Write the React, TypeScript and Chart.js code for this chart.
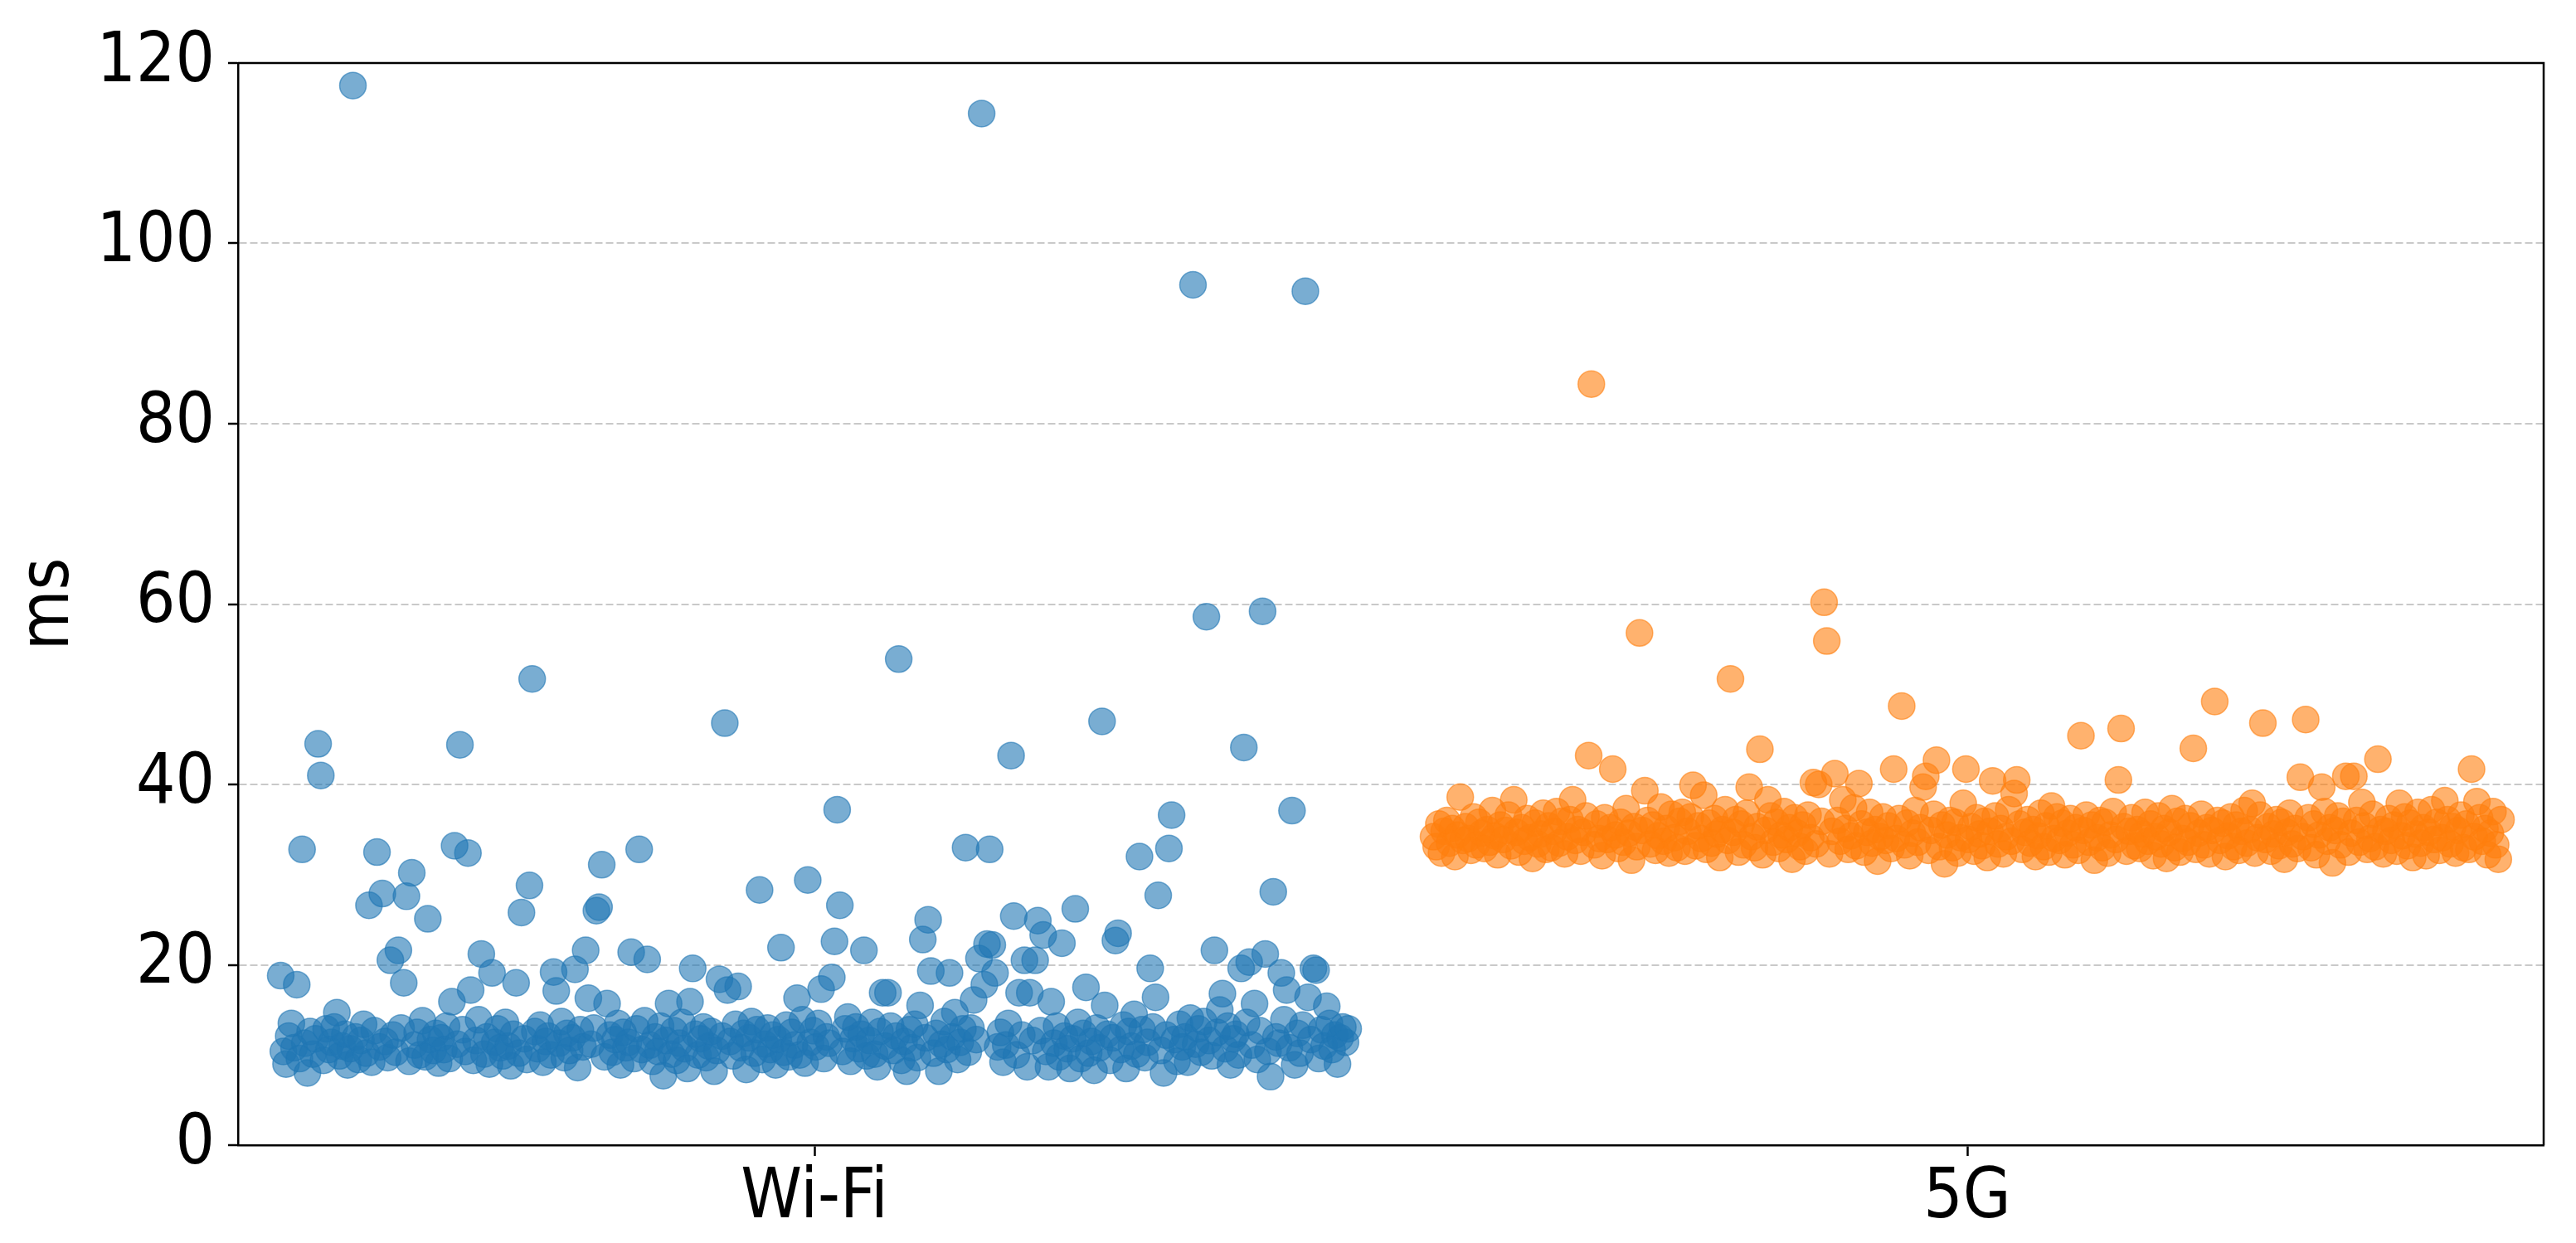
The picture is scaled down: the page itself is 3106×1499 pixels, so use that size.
import { useEffect, useRef } from "react";
import { Chart, registerables } from "chart.js";

Chart.register(...registerables);

const categories = ["Wi-Fi", "5G"];
const yTicks = [0, 20, 40, 60, 80, 100, 120];

// latency samples (ms), read left to right across each strip
const wifiMs = [
  18.8, 10.4, 9.0, 12.1, 13.5, 10.8, 17.8, 9.6, 32.8, 11.3, 8.0, 12.6, 10.1, 11.8, 44.5, 41.0, 9.4, 12.9, 10.6, 11.4,
  13.1, 14.7, 9.9, 11.0, 12.3, 8.9, 10.7, 117.5, 12.0, 9.5, 11.6, 13.4, 10.2, 26.6, 9.2, 12.7, 32.5, 10.9, 27.9, 11.5,
  9.7, 20.5, 12.2, 10.3, 21.6, 13.0, 18.0, 27.6, 9.3, 30.2, 11.1, 12.5, 10.0, 13.8, 9.8, 25.1, 11.7, 10.5, 12.4, 9.1,
  11.9, 10.6, 13.2, 9.6, 15.9, 33.2, 11.2, 44.4, 12.8, 10.4, 32.4, 17.2, 9.4, 11.6, 13.9, 21.2, 10.1, 12.0, 9.0, 19.1,
  11.4, 12.9, 10.8, 9.9, 13.6, 11.0, 8.8, 12.3, 18.0, 10.2, 25.8, 11.8, 9.5, 28.8, 51.7, 12.6, 10.7, 13.3, 9.2, 11.5,
  12.1, 10.0, 19.2, 17.1, 11.3, 13.7, 9.7, 12.4, 10.5, 11.9, 19.5, 8.6, 12.8, 10.9, 21.6, 16.3, 11.2, 13.0, 26.0, 26.4,
  31.1, 9.8, 15.7, 12.2, 10.3, 11.7, 13.5, 8.9, 12.5, 10.8, 11.4, 21.4, 9.6, 12.9, 32.8, 10.6, 13.8, 20.6, 11.1, 9.3,
  12.0, 10.4, 13.2, 7.7, 11.6, 15.7, 10.1, 12.7, 9.4, 11.3, 13.6, 10.7, 8.5, 15.9, 19.6, 12.3, 10.0, 11.8, 13.1, 9.7,
  11.0, 12.6, 8.2, 10.5, 18.4, 12.1, 46.8, 17.2, 11.5, 9.9, 13.4, 17.6, 10.8, 12.4, 8.4, 11.9, 13.7, 10.2, 12.8, 28.3,
  9.5, 11.2, 13.0, 10.6, 12.2, 8.9, 11.7, 21.9, 10.3, 13.3, 9.8, 12.5, 11.1, 16.3, 10.0, 13.9, 9.1, 29.4, 11.4, 12.7,
  10.9, 13.5, 17.3, 9.6, 12.0, 11.3, 18.6, 22.6, 37.2, 26.6, 10.4, 12.9, 14.2, 9.3, 11.8, 13.1, 10.7, 12.3, 21.6, 9.9,
  11.6, 13.6, 10.1, 8.7, 12.6, 16.9, 11.0, 16.9, 13.2, 10.5, 12.1, 53.9, 9.4, 11.5, 8.2, 12.8, 10.8, 13.4, 9.7, 15.5,
  22.8, 11.9, 25.0, 19.3, 10.2, 12.4, 8.2, 11.2, 13.7, 10.6, 19.1, 12.0, 14.7, 9.5, 11.4, 12.9, 33.0, 10.3, 13.0, 16.1,
  11.7, 20.7, 114.4, 17.8, 22.3, 32.8, 22.2, 19.1, 10.9, 12.5, 9.2, 11.1, 13.5, 43.2, 25.4, 10.0, 16.9, 12.2, 20.5, 8.7,
  16.9, 11.6, 20.5, 24.9, 12.7, 23.3, 10.4, 8.7, 15.9, 11.3, 13.2, 9.8, 22.4, 12.1, 10.7, 8.5, 11.8, 26.2, 13.6, 9.6,
  12.4, 17.5, 10.2, 11.5, 8.3, 13.0, 10.8, 47.0, 15.5, 12.3, 9.4, 11.9, 22.7, 23.5, 10.6, 13.3, 8.5, 12.6, 11.0, 14.5,
  10.1, 32.0, 12.8, 9.7, 11.4, 19.6, 13.1, 16.4, 27.7, 10.5, 8.0, 12.2, 32.9, 36.6, 11.7, 9.3, 13.4, 10.9, 12.0, 9.2,
  14.1, 95.4, 11.2, 12.9, 10.3, 13.7, 58.6, 11.6, 9.9, 21.6, 12.5, 15.0, 16.8, 10.7, 13.2, 8.9, 11.8, 12.3, 10.0, 19.6,
  44.1, 13.6, 20.3, 11.1, 15.7, 9.5, 12.7, 59.2, 21.2, 10.4, 7.6, 28.1, 12.0, 11.3, 19.1, 13.9, 17.2, 10.8, 37.1, 8.9,
  12.4, 10.2, 13.3, 94.7, 16.4, 11.7, 19.6, 19.4, 9.6, 12.8, 11.0, 15.4, 13.5, 10.6, 12.2, 9.0, 11.9, 13.1, 11.4, 12.9,
];

const fiveGMs = [
  34.2, 33.1, 35.6, 32.4, 34.8, 36.0, 33.5, 35.1, 32.0, 34.4, 38.6, 33.8, 35.3, 34.0, 32.7, 36.4, 33.3, 35.8, 34.6, 32.9,
  35.0, 33.6, 37.1, 34.3, 32.2, 35.5, 33.9, 34.9, 36.6, 33.2, 38.3, 34.7, 32.5, 35.2, 33.7, 36.2, 34.1, 31.8, 35.7, 33.4,
  34.5, 36.8, 32.8, 35.4, 33.0, 34.8, 37.0, 33.5, 35.9, 32.3, 34.2, 36.1, 38.3, 33.8, 35.0, 32.6, 34.7, 36.5, 43.2, 84.4,
  33.3, 35.6, 34.0, 32.1, 36.3, 33.9, 35.2, 41.7, 34.4, 32.9, 35.8, 33.6, 37.3, 34.6, 31.6, 35.3, 33.1, 56.8, 34.9, 39.3,
  36.0, 33.4, 35.5, 32.7, 34.3, 37.5, 33.7, 35.1, 32.4, 36.7, 34.1, 33.0, 35.9, 36.9, 32.6, 34.8, 36.4, 39.9, 33.2, 35.4,
  34.0, 38.8, 32.8, 35.7, 33.5, 36.2, 34.5, 31.9, 35.0, 37.2, 33.8, 51.7, 34.7, 36.1, 32.5, 35.6, 33.3, 36.8, 39.7, 34.2,
  33.0, 35.3, 43.9, 32.2, 34.9, 38.3, 36.5, 33.6, 35.8, 32.9, 34.4, 37.0, 33.9, 35.2, 31.7, 36.3, 34.6, 33.1, 35.5, 32.6,
  36.6, 34.1, 40.2, 33.4, 40.0, 35.9, 60.2, 55.9, 32.3, 34.8, 41.2, 36.0, 33.7, 38.3, 35.1, 32.8, 34.3, 37.4, 33.2, 40.1,
  35.6, 32.5, 34.7, 36.9, 33.5, 35.0, 31.5, 34.2, 36.4, 33.8, 35.4, 32.9, 41.7, 34.0, 36.2, 48.7, 33.3, 35.7, 32.1, 34.6,
  37.1, 33.6, 35.2, 39.7, 40.9, 32.7, 34.9, 36.7, 42.7, 33.1, 35.5, 31.2, 34.4, 36.0, 33.0, 35.8, 32.4, 34.1, 37.9, 41.7,
  33.9, 35.3, 32.6, 36.3, 34.5, 33.2, 35.9, 31.9, 34.8, 40.4, 36.5, 33.4, 35.1, 32.3, 34.2, 37.2, 33.7, 39.0, 40.5, 35.6,
  32.8, 34.7, 36.1, 33.5, 35.0, 32.0, 34.3, 36.8, 33.1, 35.4, 32.5, 37.6, 34.0, 36.4, 33.8, 35.7, 32.2, 34.6, 36.2, 33.3,
  35.2, 32.7, 45.4, 34.9, 36.6, 33.6, 35.5, 31.6, 34.1, 36.0, 33.0, 35.8, 32.4, 34.4, 37.0, 33.9, 40.5, 46.2, 35.3, 32.6,
  34.8, 36.3, 33.2, 35.0, 32.9, 34.5, 36.9, 33.7, 35.6, 32.1, 34.2, 36.5, 33.4, 35.1, 31.8, 34.7, 37.3, 33.0, 35.9, 32.5,
  34.0, 36.2, 33.6, 35.4, 44.0, 32.8, 34.6, 36.7, 33.3, 35.2, 32.3, 34.9, 49.2, 36.0, 33.8, 35.7, 32.0, 34.3, 36.4, 33.1,
  35.5, 32.7, 34.8, 37.1, 33.5, 35.0, 37.9, 32.4, 34.1, 36.6, 46.8, 33.9, 35.3, 32.6, 34.5, 36.1, 33.2, 35.8, 31.7, 34.7,
  36.8, 33.4, 35.1, 32.9, 40.8, 34.2, 47.2, 36.3, 33.0, 35.6, 32.2, 34.4, 39.7, 37.0, 33.7, 35.2, 31.3, 34.9, 36.5, 33.3,
  35.9, 40.9, 32.5, 34.6, 40.9, 36.0, 33.6, 38.0, 35.4, 32.8, 34.0, 36.7, 33.1, 42.8, 35.0, 32.3, 34.8, 36.2, 33.8, 35.5,
  32.6, 37.9, 34.3, 36.4, 33.2, 35.7, 31.9, 34.5, 36.9, 33.5, 35.2, 32.1, 34.7, 37.2, 33.9, 35.8, 32.7, 34.1, 38.2, 36.1,
  33.4, 35.3, 32.4, 34.9, 36.6, 33.0, 35.6, 32.8, 41.7, 34.2, 38.1, 36.3, 33.7, 35.1, 32.2, 34.6, 37.0, 33.3, 31.7, 36.1,
];

const FONT = "'DejaVu Sans Condensed', 'DejaVu Sans', sans-serif";
const FONT_SIZE = 83;
const SPREAD = 0.463; // half width of the strip around each category

function strip(values: number[], cat: number) {
  const n = values.length;
  return values.map((y, i) => ({ x: cat - SPREAD + (2 * SPREAD * i) / (n - 1), y }));
}

// top and right spines
const frame = {
  id: "frame",
  afterDraw(chart: Chart) {
    const { ctx, chartArea: a } = chart;
    ctx.save();
    ctx.strokeStyle = "#000";
    ctx.lineWidth = 2.5;
    ctx.beginPath();
    ctx.moveTo(a.left, a.top);
    ctx.lineTo(a.right, a.top);
    ctx.lineTo(a.right, a.bottom);
    ctx.stroke();
    ctx.restore();
  },
};

function App() {
  const canvasRef = useRef<HTMLCanvasElement | null>(null);

  useEffect(() => {
    if (!canvasRef.current) return;
    const chart = new Chart(canvasRef.current, {
      type: "scatter",
      data: {
        datasets: [
          {
            label: categories[0],
            data: strip(wifiMs, 0),
            backgroundColor: "rgba(31, 119, 180, 0.6)",
            borderColor: "rgba(31, 119, 180, 0.6)",
            borderWidth: 1.5,
            pointRadius: 16,
          },
          {
            label: categories[1],
            data: strip(fiveGMs, 1),
            backgroundColor: "rgba(255, 127, 14, 0.6)",
            borderColor: "rgba(255, 127, 14, 0.6)",
            borderWidth: 1.5,
            pointRadius: 16,
          },
        ],
      },
      options: {
        animation: false,
        responsive: true,
        maintainAspectRatio: false,
        events: [],
        layout: { padding: { top: 76, right: 39, left: 0, bottom: 0 } },
        plugins: {
          legend: { display: false },
          tooltip: { enabled: false },
        },
        scales: {
          x: {
            type: "linear",
            min: -0.5,
            max: 1.5,
            afterBuildTicks: (scale: any) => {
              scale.ticks = categories.map((_, i) => ({ value: i }));
            },
            afterFit: (scale: any) => {
              scale.height = 118;
            },
            ticks: {
              autoSkip: false,
              maxRotation: 0,
              padding: 3,
              color: "#000",
              font: { family: FONT, size: FONT_SIZE },
              callback: (_v: any, i: number) => categories[i],
            },
            grid: { drawOnChartArea: false, tickLength: 13, tickWidth: 2.5, tickColor: "#000" },
            border: { color: "#000", width: 2.5 },
          },
          y: {
            min: 0,
            max: 120,
            z: 1,
            afterBuildTicks: (scale: any) => {
              scale.ticks = yTicks.map((v) => ({ value: v }));
            },
            afterFit: (scale: any) => {
              scale.width = 287;
            },
            ticks: {
              padding: 16,
              color: "#000",
              font: { family: FONT, size: FONT_SIZE },
            },
            grid: {
              color: (ctx: any) =>
                ctx.tick && (ctx.tick.value === 0 || ctx.tick.value === 120) ? "rgba(0,0,0,0)" : "#c9c9c9",
              lineWidth: 2,
              tickLength: 12,
              tickWidth: 2.5,
              tickColor: "#000",
            },
            border: { color: "#000", width: 2.5, dash: [9, 4] },
            title: {
              display: true,
              text: "ms",
              color: "#000",
              font: { family: FONT, size: FONT_SIZE },
              padding: { top: 11, bottom: 0 },
            },
          },
        },
      },
      plugins: [frame],
    });
    return () => chart.destroy();
  }, []);

  return (
    <div style={{ position: "absolute", left: 0, top: 0, width: 3106, height: 1499, background: "#fff" }}>
      <canvas ref={canvasRef} />
    </div>
  );
}

export default App;
